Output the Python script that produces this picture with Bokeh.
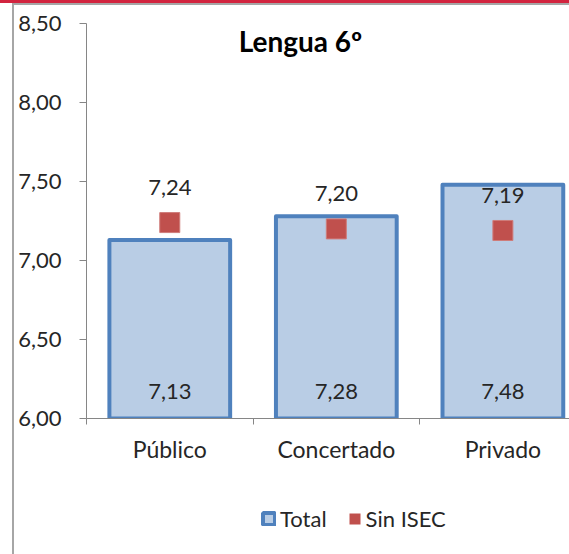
from bokeh.plotting import figure
from bokeh.layouts import column
from bokeh.models import (Range1d, FixedTicker, CustomJSTickFormatter, ColumnDataSource,
                          Label, Legend, LegendItem)
from bokeh.core.properties import value
from bokeh.embed import file_html
from bokeh.resources import INLINE

categories = ["Público", "Concertado", "Privado"]
total = [7.13, 7.28, 7.48]
sin_isec = [7.24, 7.20, 7.19]
y_ticks = [6.0, 6.5, 7.0, 7.5, 8.0, 8.5]
chart_title = "Lengua 6º"
series_names = ["Total", "Sin ISEC"]

FONT = "Lato"
TXT = "#262626"
AX = "#868686"
FS = "22px"
BAR_FILL = "#B9CDE5"
BAR_LINE = "#4F81BD"
RED = "#C0504D"

def fmt(v):
    return f"{v:.2f}".replace(".", ",")

xs = [i + 0.5 for i in range(len(categories))]
src = ColumnDataSource(dict(
    x=xs, total=total, sin=sin_isec,
    total_lbl=[fmt(v) for v in total],
    sin_lbl=[fmt(v) for v in sin_isec],
))

p = figure(width=569, height=480, x_range=Range1d(0, 2.9), y_range=Range1d(6.0, 8.5),
           output_backend="svg", toolbar_location=None,
           min_border_left=86, min_border_right=0, min_border_top=23, min_border_bottom=62)
p.grid.visible = False
p.outline_line_color = None
p.background_fill_color = "white"
p.border_fill_alpha = 0

bars = p.vbar(x="x", top="total", bottom=6.0, width=0.725, source=src,
              fill_color=BAR_FILL, line_color=BAR_LINE, line_width=4, line_join="round")
sq = p.scatter(x="x", y="sin", source=src, marker="square", size=20,
               fill_color=RED, line_color="#CF7C7A", line_width=1)

p.text(x="x", y=6.0, text="total_lbl", source=src, y_offset=-27,
       text_align="center", text_baseline="middle", text_font=value(FONT),
       text_font_size=FS, text_color=TXT)
p.text(x="x", y="sin", text="sin_lbl", source=src, y_offset=-35,
       text_align="center", text_baseline="middle", text_font=value(FONT),
       text_font_size=FS, text_color=TXT)

p.add_layout(Label(x=1.285, y=8.39, text=chart_title, text_align="center",
                   text_baseline="middle", text_font=FONT, text_font_style="bold",
                   text_font_size="28px", text_color="#000000"))

# y axis
ya = p.yaxis[0]
ya.ticker = FixedTicker(ticks=y_ticks)
ya.formatter = CustomJSTickFormatter(code="return tick.toFixed(2).replace('.', ',');")
ya.major_tick_out = 7
ya.major_tick_in = 0
ya.minor_tick_line_color = None
ya.axis_line_color = AX
ya.major_tick_line_color = AX
ya.major_label_text_font = FONT
ya.major_label_text_font_size = FS
ya.major_label_text_color = TXT
ya.major_label_standoff = 18

# x axis
xa = p.xaxis[0]
xa.ticker = FixedTicker(ticks=xs, minor_ticks=[0, 1, 2, 3])
xa.major_label_overrides = {x: c for x, c in zip(xs, categories)}
xa.major_tick_line_color = None
xa.major_tick_out = 0
xa.major_tick_in = 0
xa.minor_tick_out = 6
xa.minor_tick_in = 0
xa.minor_tick_line_color = AX
xa.axis_line_color = AX
xa.major_label_text_font = FONT
xa.major_label_text_font_size = "23px"
xa.major_label_text_color = TXT
xa.major_label_standoff = 10

# legend strip below the chart (proxy renderers lie outside its ranges)
p2 = figure(width=569, height=74, x_range=Range1d(0, 1), y_range=Range1d(0, 1),
            output_backend="svg", toolbar_location=None,
            x_axis_location=None, y_axis_location=None, min_border=0)
p2.grid.visible = False
p2.outline_line_color = None
p2.background_fill_alpha = 0
p2.border_fill_alpha = 0
lg_total = p2.rect(x="x", y="total", width=0.01, height=0.01, source=src,
                   fill_color=BAR_FILL, line_color=BAR_LINE, line_width=4)
lg_sin = p2.rect(x="x", y="sin", width=0.01, height=0.01, source=src,
                 fill_color=RED, line_color="white", line_width=1)
legend = Legend(items=[LegendItem(label=series_names[0], renderers=[lg_total]),
                       LegendItem(label=series_names[1], renderers=[lg_sin])],
                orientation="horizontal", location=(175, 22),
                border_line_color=None, background_fill_alpha=0,
                label_text_font=FONT, label_text_font_size=FS, label_text_color=TXT,
                glyph_width=15, glyph_height=15, spacing=20, padding=0, margin=0,
                label_standoff=4)
p2.add_layout(legend)

layout = column(p, p2, spacing=0)
layout.styles = {
    "background-color": "white",
    "background-image": ("linear-gradient(#D2243F,#D2243F), linear-gradient(#A6A6A6,#A6A6A6), "
                         "linear-gradient(#A6A6A6,#A6A6A6)"),
    "background-size": "100% 3px, 100% 2px, 2px 100%",
    "background-position": "0 0, 12px 3px, 12px 3px",
    "background-repeat": "no-repeat",
}

open("out.html", "w").write(file_html(layout, INLINE))
